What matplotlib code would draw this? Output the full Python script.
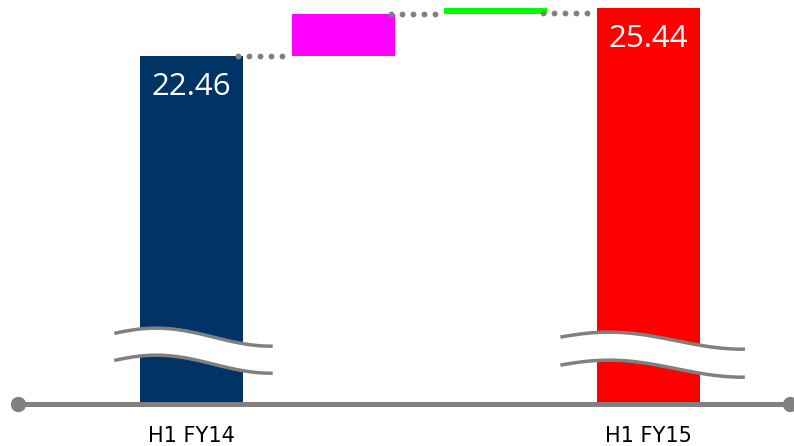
import numpy as np
import matplotlib.pyplot as plt

# H1 FY14 -> H1 FY15 bridge
categories = ['H1 FY14', '', '', 'H1 FY15']
start_value = 22.46
steps = [2.61, 0.37]
end_value = 25.44
colors = ['#003366', '#ff00ff', '#00ff00', '#ff0000']
gray = '#808080'

x = np.arange(len(categories))
width = 0.677

fig = plt.figure(figsize=(7.94, 4.46), dpi=100)
ax = fig.add_axes([0, 0.094, 1, 0.906])
ax.set_xlim(-1.258, 3.958)
ax.set_ylim(0.82, 25.94)

# running totals for the floating steps
levels = [start_value]
for s in steps:
    levels.append(levels[-1] + s)

bottoms = [0, start_value, levels[1], 0]
heights = [start_value, steps[0], steps[1], end_value]
ax.bar(x, heights, width=width, bottom=bottoms, color=colors, zorder=2)

# dotted connectors between bars (five dots each)
conn_levels = [levels[0], levels[1], end_value - 0.3]
for i, lv in enumerate(conn_levels):
    x0 = x[i] + width / 2 - 0.03
    x1 = x[i + 1] - width / 2 - 0.065
    ax.plot(np.linspace(x0, x1, 5), [lv] * 5, ls='none', marker='o', ms=4.2,
            mec='none', color=gray, zorder=3)

# value labels inside the end bars
for xi, v in [(x[0], start_value), (x[-1], end_value)]:
    ax.annotate(f'{v:.2f}', (xi, v), xytext=(0, -22), textcoords='offset points',
                ha='center', va='center', color='white', fontsize=22.5,
                family='Open Sans', zorder=4)


def draw_break(xc, left, right, y_top, gap, amp):
    t = np.linspace(0, 1, 120)
    th = -0.35 * np.pi + t * 1.35 * np.pi
    xs = xc - left + t * (left + right)
    upper = y_top + amp * np.cos(th)
    lower = upper - gap
    ax.fill_between(xs, lower, upper, color='white', lw=0, zorder=5)
    ax.plot(xs, upper, color=gray, lw=2.5, zorder=6)
    ax.plot(xs, lower, color=gray, lw=2.5, zorder=6)


draw_break(x[0], 0.496, 0.522, 4.98, 1.68, 0.56)
draw_break(x[-1], 0.565, 0.624, 4.76, 1.74, 0.53)

# baseline with round ends
ax.plot([0.0227, 0.995], [0, 0], transform=ax.transAxes, color=gray, lw=3.6,
        marker='o', ms=10, clip_on=False, zorder=7)

ax.set_xticks(x, categories)
ax.set_yticks([])
ax.tick_params(axis='x', length=0, pad=16, labelsize=15)
for sp in ax.spines.values():
    sp.set_visible(False)

fig.savefig('out.png', dpi=100)
